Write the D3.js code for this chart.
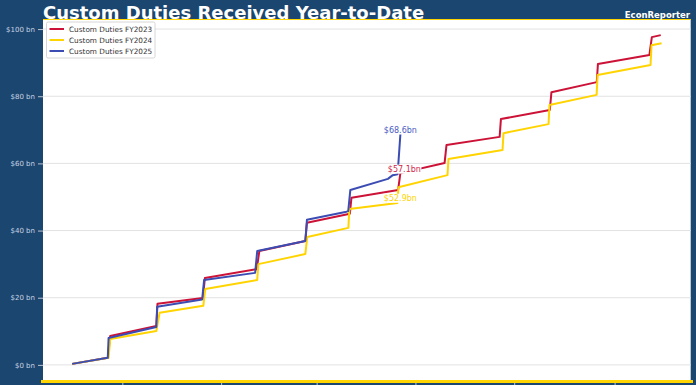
<!DOCTYPE html>
<html lang="en">
<head>
  <meta charset="utf-8">
  <title>Custom Duties Received Year-to-Date</title>
  <script src="https://cdn.jsdelivr.net/npm/d3@7"></script>
  <style>
    body { margin: 0; background: #1b4670; }
    svg { display: block; font-family: "DejaVu Sans", sans-serif; }
  </style>
</head>
<body>
<svg id="chart"></svg>
<script>
  // 1. Data (x = day of fiscal year, day 0 = Oct 1; y = cumulative $bn)
  var seriesNames = ["Custom Duties FY2023", "Custom Duties FY2024", "Custom Duties FY2025"];
  var seriesColors = ["#cc1236", "#ffd400", "#3b4db3"];

  var days2023 = [0, 22, 23.5, 52, 52.7, 80.7, 82, 114, 115.6, 144, 145, 171.5, 172.5, 201.3, 202.7, 230, 231.2, 264, 264.8, 295, 296, 324, 324.7, 356.5, 358, 363.5];
  var values2023 = [0.3, 2.1, 8.6, 11.6, 18.2, 19.9, 25.9, 28.5, 33.9, 36.9, 42.3, 45.0, 49.8, 52.1, 57.1, 60.1, 65.5, 67.9, 73.2, 75.9, 81.2, 84.2, 89.6, 92.3, 97.6, 98.2];

  var days2024 = [0, 22.5, 23.5, 52, 54, 81, 82.2, 114.3, 115, 144, 145.2, 170.6, 171.2, 200.9, 201.5, 231.8, 232.4, 265.8, 266.4, 294.2, 294.8, 323.9, 324.5, 357.2, 357.8, 364];
  var values2024 = [0.3, 2.1, 7.7, 10.1, 15.5, 17.6, 22.6, 25.3, 30.0, 33.0, 38.1, 40.8, 46.4, 48.2, 52.9, 56.5, 61.3, 64.0, 69.0, 71.7, 77.4, 80.4, 86.3, 89.3, 95.2, 95.8];

  var days2025 = [0, 22, 22.5, 52, 52.5, 80.3, 81.5, 113, 114.3, 144, 145, 168.7, 170.5, 171.8, 195, 198, 201, 202.7];
  var values2025 = [0.3, 2.1, 8.0, 11.3, 17.3, 19.5, 25.3, 27.4, 33.9, 36.9, 43.2, 45.5, 45.8, 52.1, 55.4, 56.5, 56.8, 68.6];

  var labelDay = 202.7;
  var labelValues = [57.1, 52.9, 68.6];
  var labelTexts = ["$57.1bn", "$52.9bn", "$68.6bn"];

  // month starts (Nov, Jan, Mar, May, Jul, Sep); their labels sit below the frame
  var monthTickDays = [31, 92, 151, 212, 273, 335];
  var yTickValues = [0, 20, 40, 60, 80, 100];

  // 2. Sizes
  var W = 696, H = 385;
  var plotL = 43, plotR = 690.7, plotT = 19, plotB = 380;

  var svg = d3.select("#chart").attr("width", W).attr("height", H);
  svg.append("rect").attr("width", W).attr("height", H).attr("fill", "#1b4670");

  // 3. Scales
  var x = d3.scaleLinear().domain([-18, 382]).range([plotL, plotR]);
  var y = d3.scaleLinear().domain([-4.5, 103]).range([plotB, plotT]);

  // 4. Plot area + grid
  svg.append("rect")
    .attr("x", plotL).attr("y", plotT)
    .attr("width", plotR - plotL).attr("height", plotB - plotT)
    .attr("fill", "#ffffff");

  svg.append("g").selectAll("line")
    .data(yTickValues)
    .enter().append("line")
    .attr("x1", plotL).attr("x2", plotR)
    .attr("y1", d => y(d)).attr("y2", d => y(d))
    .style("stroke", "#e2e2e2")
    .style("stroke-width", "1px");

  // y axis
  var yAxis = svg.append("g")
    .attr("transform", "translate(" + plotL + ",0)")
    .call(d3.axisLeft(y).tickValues(yTickValues).tickSize(5).tickPadding(3)
      .tickFormat(d => "$" + d + " bn"));
  yAxis.select(".domain").remove();
  yAxis.selectAll("line").style("stroke", "#b8c4d4");
  yAxis.selectAll("text")
    .style("fill", "#c9d4e2")
    .style("font", "7px 'DejaVu Sans', sans-serif");

  // x axis ticks only (labels are outside the picture)
  var xAxis = svg.append("g")
    .attr("transform", "translate(0," + (plotB + 3) + ")")
    .call(d3.axisBottom(x).tickValues(monthTickDays).tickSize(4).tickFormat(""));
  xAxis.select(".domain").remove();
  xAxis.selectAll("line").style("stroke", "#b8c4d4");

  // 5. Lines
  var series = [
    d3.zip(days2023, values2023),
    d3.zip(days2024, values2024),
    d3.zip(days2025, values2025)
  ];

  var line = d3.line().x(d => x(d[0])).y(d => y(d[1]));

  svg.append("g").selectAll("path")
    .data(series)
    .enter().append("path")
    .attr("d", line)
    .attr("fill", "none")
    .style("stroke", (d, i) => seriesColors[i])
    .style("stroke-width", "2px")
    .style("stroke-linejoin", "round");

  // 6. End labels
  var labelOffsets = [[4, -1], [0, 14], [0, -1.5]];
  var labelColors = ["#d0284a", "#ffd400", "#4a5cc4"];
  var labels = svg.append("g").selectAll("g")
    .data(labelTexts)
    .enter().append("g")
    .attr("transform", (d, i) => "translate(" + (x(labelDay) + labelOffsets[i][0]) + "," + (y(labelValues[i]) + labelOffsets[i][1]) + ")");

  labels.append("rect")
    .attr("x", -17).attr("y", -7.5)
    .attr("width", 34).attr("height", 9)
    .attr("fill", (d, i) => i === 2 ? "none" : "#ffffff");

  labels.append("text")
    .attr("text-anchor", "middle")
    .style("font", "8px 'DejaVu Sans', sans-serif")
    .style("fill", (d, i) => labelColors[i])
    .text(d => d);

  // 7. Legend
  var legend = svg.append("g").attr("transform", "translate(46.5,22)");
  legend.append("rect")
    .attr("width", 108.5).attr("height", 36)
    .attr("rx", 1.5)
    .attr("fill", "#ffffff")
    .style("stroke", "#cccccc")
    .style("stroke-width", "0.8px");

  var item = legend.selectAll("g")
    .data(seriesNames)
    .enter().append("g")
    .attr("transform", (d, i) => "translate(0," + (7 + i * 11) + ")");
  item.append("line")
    .attr("x1", 3).attr("x2", 17.5)
    .style("stroke", (d, i) => seriesColors[i])
    .style("stroke-width", "2px");
  item.append("text")
    .attr("x", 22.5).attr("y", 2.6)
    .style("font", "7.3px 'DejaVu Sans', sans-serif")
    .style("fill", "#333333")
    .text(d => d);

  // 8. Frame lines
  svg.append("line")
    .attr("x1", plotL).attr("x2", plotR)
    .attr("y1", plotT + 0.5).attr("y2", plotT + 0.5)
    .style("stroke", "#ffd400").style("stroke-width", "1.2px");
  svg.append("line")
    .attr("x1", 41).attr("x2", 693)
    .attr("y1", plotB + 1.5).attr("y2", plotB + 1.5)
    .style("stroke", "#ffd400").style("stroke-width", "3px");

  // 9. Title
  svg.append("text")
    .attr("x", 43).attr("y", 18.5)
    .style("font", "bold 18px 'DejaVu Sans', sans-serif")
    .style("fill", "#ffffff")
    .text("Custom Duties Received Year-to-Date");

  svg.append("text")
    .attr("x", 690).attr("y", 17.5)
    .attr("text-anchor", "end")
    .style("font", "bold 8.5px 'DejaVu Sans', sans-serif")
    .style("fill", "#ffffff")
    .text("EconReporter");
</script>
</body>
</html>
